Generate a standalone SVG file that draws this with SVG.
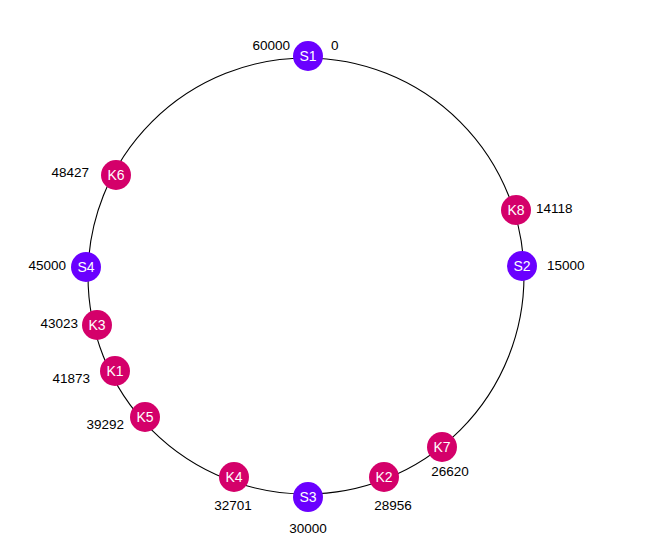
<svg xmlns="http://www.w3.org/2000/svg" width="666" height="558" viewBox="0 0 666 558">
<style>
.ring{fill:none;stroke:#000;stroke-width:1.1}
.s{fill:#6a00ff}
.k{fill:#d4006a}
.nl{font-family:"Liberation Sans",Arial,sans-serif;font-size:14px;fill:#fff;text-anchor:middle}
.v{font-family:"Liberation Sans",Arial,sans-serif;font-size:13.5px;fill:#000}
.e{text-anchor:end}
.m{text-anchor:middle}
</style>
<rect width="666" height="558" fill="#fff"/>
<g id="connectors">
<circle class="ring" cx="306" cy="276" r="218"/>
</g>
<g id="S1"><circle class="s" cx="308" cy="56" r="15"/><text class="nl" x="308" y="61">S1</text><text class="v e" x="290" y="50">60000</text><text class="v" x="331" y="50">0</text></g>
<g id="K8"><circle class="k" cx="516" cy="210" r="15"/><text class="nl" x="516" y="215">K8</text><text class="v" x="536" y="213">14118</text></g>
<g id="S2"><circle class="s" cx="522" cy="266" r="15"/><text class="nl" x="522" y="271">S2</text><text class="v" x="547" y="270">15000</text></g>
<g id="K7"><circle class="k" cx="442" cy="447" r="15"/><text class="nl" x="442" y="452">K7</text><text class="v m" x="450" y="476">26620</text></g>
<g id="K2"><circle class="k" cx="384" cy="477" r="15"/><text class="nl" x="384" y="482">K2</text><text class="v m" x="393" y="510">28956</text></g>
<g id="S3"><circle class="s" cx="308" cy="497" r="15"/><text class="nl" x="308" y="502">S3</text><text class="v m" x="308" y="533">30000</text></g>
<g id="K4"><circle class="k" cx="234" cy="477" r="15"/><text class="nl" x="234" y="482">K4</text><text class="v m" x="233" y="510">32701</text></g>
<g id="K5"><circle class="k" cx="145" cy="417" r="15"/><text class="nl" x="145" y="422">K5</text><text class="v e" x="124" y="429">39292</text></g>
<g id="K1"><circle class="k" cx="115" cy="371" r="15"/><text class="nl" x="115" y="376">K1</text><text class="v e" x="90" y="383">41873</text></g>
<g id="K3"><circle class="k" cx="97" cy="325" r="15"/><text class="nl" x="97" y="330">K3</text><text class="v e" x="78" y="328">43023</text></g>
<g id="S4"><circle class="s" cx="86" cy="267" r="15"/><text class="nl" x="86" y="272">S4</text><text class="v e" x="66" y="270">45000</text></g>
<g id="K6"><circle class="k" cx="116" cy="175" r="15"/><text class="nl" x="116" y="180">K6</text><text class="v e" x="89" y="177">48427</text></g>
</svg>
